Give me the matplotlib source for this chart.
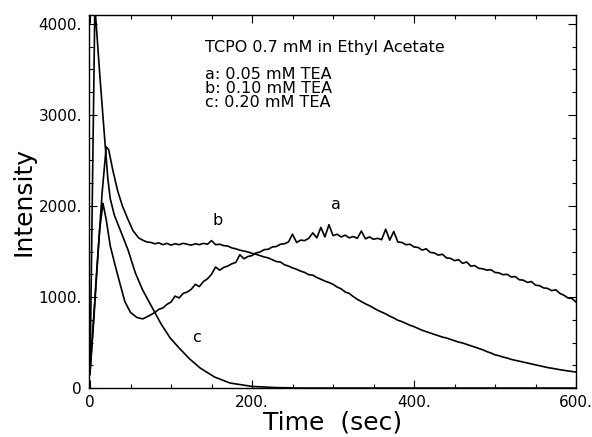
import matplotlib
matplotlib.use("Agg")
import matplotlib.pyplot as plt
from matplotlib.ticker import MultipleLocator, FixedLocator, FixedFormatter

plt.rcParams["font.family"] = ["DejaVu Sans"]

# ---- data ----
time_a = [0, 4, 8, 12, 16, 20, 25, 33, 43, 50, 58, 65, 72] + list(range(80, 605, 5))
intensity_a = [200, 700, 1250, 1750, 2030, 1850, 1560, 1280, 950, 830, 775, 760, 790,
               830, 865, 880, 920, 945, 1010, 990, 1040, 1055, 1085, 1140, 1115, 1170, 1200, 1250,
               1330, 1295, 1325, 1340, 1365, 1380, 1465, 1420, 1445, 1455, 1485, 1495, 1520, 1525,
               1550, 1555, 1580, 1585, 1605, 1690, 1600, 1625, 1620, 1645, 1705, 1650, 1765, 1660,
               1795, 1675, 1690, 1660, 1680, 1650, 1665, 1645, 1725, 1640, 1660, 1635, 1645, 1630,
               1745, 1625, 1720, 1605, 1600, 1575, 1580, 1550, 1545, 1515, 1530, 1490, 1485, 1460,
               1470, 1430, 1425, 1400, 1410, 1370, 1385, 1340, 1345, 1315, 1310, 1295, 1300, 1270,
               1265, 1245, 1250, 1220, 1225, 1190, 1185, 1160, 1170, 1130, 1125, 1100, 1095, 1070,
               1080, 1040, 1020, 990, 985, 945]

time_b = [0, 5, 10, 15, 20, 23, 28, 34, 40, 47, 53] + list(range(60, 605, 5))
intensity_b = [150, 800, 1500, 2150, 2650, 2620, 2400, 2170, 2000, 1850, 1730,
               1650, 1625, 1605, 1600, 1585, 1595, 1575, 1590, 1570, 1585, 1575, 1590, 1580, 1570,
               1585, 1575, 1590, 1580, 1620, 1575, 1580, 1565, 1560, 1540, 1530, 1515, 1505, 1495,
               1480, 1470, 1455, 1440, 1430, 1410, 1390, 1385, 1355, 1340, 1320, 1305, 1285, 1270,
               1245, 1240, 1215, 1195, 1175, 1160, 1140, 1110, 1090, 1055, 1040, 1005, 975, 950,
               925, 905, 880, 855, 835, 815, 790, 770, 745, 730, 710, 690, 675, 655, 635, 620, 605,
               590, 575, 560, 550, 535, 520, 505, 495, 480, 465, 450, 435, 420, 400, 385, 365, 355,
               340, 330, 315, 305, 295, 285, 275, 265, 255, 245, 235, 225, 218, 210, 202, 195, 188,
               182, 176]

time_c = [0, 3, 6, 12, 18, 22, 25, 30, 38, 47, 56, 65, 77, 88, 99, 110, 123, 136, 154, 173, 200, 230,
          260, 300, 400, 500, 600]
intensity_c = [150, 2200, 4200, 3450, 2750, 2300, 2080, 1900, 1720, 1516, 1264, 1077, 880, 700, 550, 440,
               320, 220, 120, 55, 18, 5, 0, 0, 0, 0, 0]

x_ticks = [0, 200, 400, 600]
x_tick_labels = ["0", "200.", "400.", "600."]
y_ticks = [0, 1000, 2000, 3000, 4000]
y_tick_labels = ["0", "1000.", "2000.", "3000.", "4000."]

title_lines = ["TCPO 0.7 mM in Ethyl Acetate", "a: 0.05 mM TEA", "b: 0.10 mM TEA", "c: 0.20 mM TEA"]
curve_labels = [("a", 303, 2020), ("b", 158, 1840), ("c", 132, 550)]

# ---- figure ----
fig = plt.figure(figsize=(5.92, 4.37), dpi=100)
ax = fig.add_axes([0.150, 0.112, 0.823, 0.854])

lw = 1.2
ax.plot(time_a, intensity_a, color="black", lw=lw)
ax.plot(time_b, intensity_b, color="black", lw=lw)
ax.plot(time_c, intensity_c, color="black", lw=lw)

ax.set_xlim(-1.5, 600)
ax.set_ylim(0, 4100)

ax.xaxis.set_major_locator(FixedLocator(x_ticks))
ax.xaxis.set_major_formatter(FixedFormatter(x_tick_labels))
ax.xaxis.set_minor_locator(MultipleLocator(50))
ax.yaxis.set_major_locator(FixedLocator(y_ticks))
ax.yaxis.set_major_formatter(FixedFormatter(y_tick_labels))
ax.yaxis.set_minor_locator(MultipleLocator(250))

ax.tick_params(which="both", direction="in", top=True, right=True, width=0.8, labelsize=11, pad=5)
ax.tick_params(which="major", length=6)
ax.tick_params(which="minor", length=3)
for s in ax.spines.values():
    s.set_linewidth(1.0)

ax.set_xlabel("Time  (sec)", fontsize=18, labelpad=0)
ax.set_ylabel("Intensity", fontsize=18, labelpad=2)

# annotation block (axes fraction positions)
ax.text(0.238, 0.913, title_lines[0], transform=ax.transAxes, fontsize=11.5, va="center", ha="left")
for i, line in enumerate(title_lines[1:]):
    ax.text(0.238, 0.840 - i * 0.0375, line, transform=ax.transAxes, fontsize=11.5, va="center", ha="left")

for lab, tx, ty in curve_labels:
    ax.text(tx, ty, lab, fontsize=11.5, ha="center", va="center")

fig.savefig("out.png", dpi=100)
